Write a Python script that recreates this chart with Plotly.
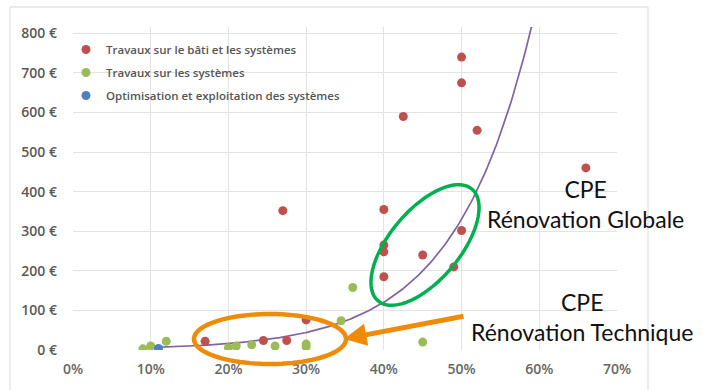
import numpy as np
import plotly.graph_objects as go

# ---------------- data ----------------
red_name = "Travaux sur le bâti et les systèmes"
red_x = [0.27, 0.425, 0.50, 0.50, 0.52, 0.66, 0.40, 0.50, 0.40, 0.40, 0.45, 0.49, 0.40, 0.17, 0.245, 0.275, 0.30]
red_y = [352, 590, 740, 675, 555, 460, 355, 302, 265, 248, 240, 210, 185, 22, 24, 24, 76]

green_name = "Travaux sur les systèmes"
green_x = [0.09, 0.10, 0.12, 0.20, 0.21, 0.23, 0.26, 0.30, 0.30, 0.345, 0.36, 0.45]
green_y = [3, 10, 22, 6, 10, 13, 10, 15, 8, 74, 158, 20]

blue_name = "Optimisation et exploitation des systèmes"
blue_x = [0.11]
blue_y = [4]

# exponential trendline: y = a * exp(b * x)
trend_a = 2.16
trend_b = 10.06
trend_x_start = 0.09
trend_x_end = 0.59

x_ticks = [0, 0.1, 0.2, 0.3, 0.4, 0.5, 0.6, 0.7]
y_ticks = [0, 100, 200, 300, 400, 500, 600, 700, 800]
y_tick_labels = ["0 €", "100 €", "200 €", "300 €", "400 €", "500 €", "600 €", "700 €", "800 €"]

label_global = "CPE<br>Rénovation Globale"
label_tech = "CPE<br>Rénovation Technique"

# ---------------- geometry (pixels) ----------------
W, H = 703, 390
L, R, T, B = 73, 617, 27, 350
Y_MAX = 816


def px(xp):
    return (xp - L) / (R - L)


def py(yp):
    return (B - yp) / (B - T)


def ellipse_path(cx, cy, a, b, ang_deg, n=90):
    t = np.linspace(0, 2 * np.pi, n)
    ang = np.deg2rad(ang_deg)
    xs = cx + a * np.cos(t) * np.cos(ang) - b * np.sin(t) * np.sin(ang)
    ys = cy - (a * np.cos(t) * np.sin(ang) + b * np.sin(t) * np.cos(ang))
    pts = [f"{px(x):.5f},{py(y):.5f}" for x, y in zip(xs, ys)]
    return "M " + " L ".join(pts) + " Z"


fig = go.Figure()

# trendline
tx = np.linspace(trend_x_start, trend_x_end, 200)
ty = trend_a * np.exp(trend_b * tx)
fig.add_trace(go.Scatter(x=tx, y=ty, mode="lines", line=dict(color="#8064A2", width=1.7),
                         showlegend=False, hoverinfo="skip"))

marker_common = dict(size=9, line=dict(width=0))
fig.add_trace(go.Scatter(x=red_x, y=red_y, mode="markers", name=red_name, legendgroup="a",
                         marker=dict(color="#C0504D", **marker_common)))
fig.add_trace(go.Scatter(x=green_x, y=green_y, mode="markers", name=green_name, legendgroup="b",
                         marker=dict(color="#9BBB59", **marker_common)))
fig.add_trace(go.Scatter(x=blue_x, y=blue_y, mode="markers", name=blue_name, legendgroup="c",
                         marker=dict(color="#4F81BD", **marker_common)))

shapes = [
    # hide gridline stubs above 800
    dict(type="rect", xref="paper", yref="y", x0=0, x1=1, y0=801, y1=Y_MAX,
         fillcolor="white", line=dict(width=0), layer="between"),
    # legend background (hides gridlines behind the legend, keeps the 0% line)
    dict(type="rect", xref="paper", yref="paper", x0=px(77), x1=px(346), y0=py(108), y1=py(34),
         fillcolor="white", line=dict(width=0), layer="between"),
    # outer chart frame
    dict(type="rect", xref="paper", yref="paper", x0=px(10), x1=px(648), y0=py(395), y1=py(7),
         line=dict(color="#D9D9D9", width=1), fillcolor="rgba(0,0,0,0)", layer="below"),
    # green ellipse
    dict(type="path", xref="paper", yref="paper", path=ellipse_path(425, 245, 73, 35, 50),
         line=dict(color="#00B050", width=3.5), layer="above"),
    # orange ellipse
    dict(type="path", xref="paper", yref="paper", path=ellipse_path(270, 339, 76, 25, 0),
         line=dict(color="#EE8C0A", width=4.5), layer="above"),
]

annotations = [
    dict(xref="paper", yref="paper", x=px(585), y=py(204), text=label_global, showarrow=False,
         font=dict(family="Lato", size=23, color="#111111"), align="center",
         xanchor="center", yanchor="middle"),
    dict(xref="paper", yref="paper", x=px(582), y=py(317), text=label_tech, showarrow=False,
         font=dict(family="Lato", size=23, color="#111111"), align="center",
         xanchor="center", yanchor="middle"),
    dict(xref="paper", yref="paper", x=px(344), y=py(339), text="", showarrow=True,
         axref="pixel", ayref="pixel", ax=121, ay=-23,
         arrowhead=2, arrowsize=0.9, arrowwidth=5, arrowcolor="#EE8C0A", standoff=0),
]

fig.update_layout(
    width=W, height=H,
    margin=dict(l=L, r=W - R, t=T, b=H - B, pad=0),
    paper_bgcolor="white", plot_bgcolor="white",
    shapes=shapes, annotations=annotations,
    legend=dict(x=px(66), y=py(35), xanchor="left", yanchor="top", bgcolor="rgba(0,0,0,0)",
                font=dict(family="Open Sans", size=11.5, color="#555555", weight=600),
                tracegroupgap=4, traceorder="grouped"),
    font=dict(family="Open Sans", color="#595959"),
)
fig.update_xaxes(range=[0, 0.7], tickvals=x_ticks, tickformat=".0%", showgrid=True,
                 gridcolor="#E3E3E3", gridwidth=1, zeroline=False, showline=False,
                 ticklabelstandoff=9, tickfont=dict(size=14, color="#666666", weight=600))
fig.update_yaxes(range=[0, Y_MAX], tickvals=y_ticks, ticktext=y_tick_labels, showgrid=True,
                 gridcolor="#E3E3E3", gridwidth=1, zeroline=False, showline=False,
                 ticklabelstandoff=15, tickfont=dict(size=14, color="#595959", weight=600))

fig.write_html("out.html", config={"displayModeBar": False},
               post_script="document.body.style.margin='0px';")
